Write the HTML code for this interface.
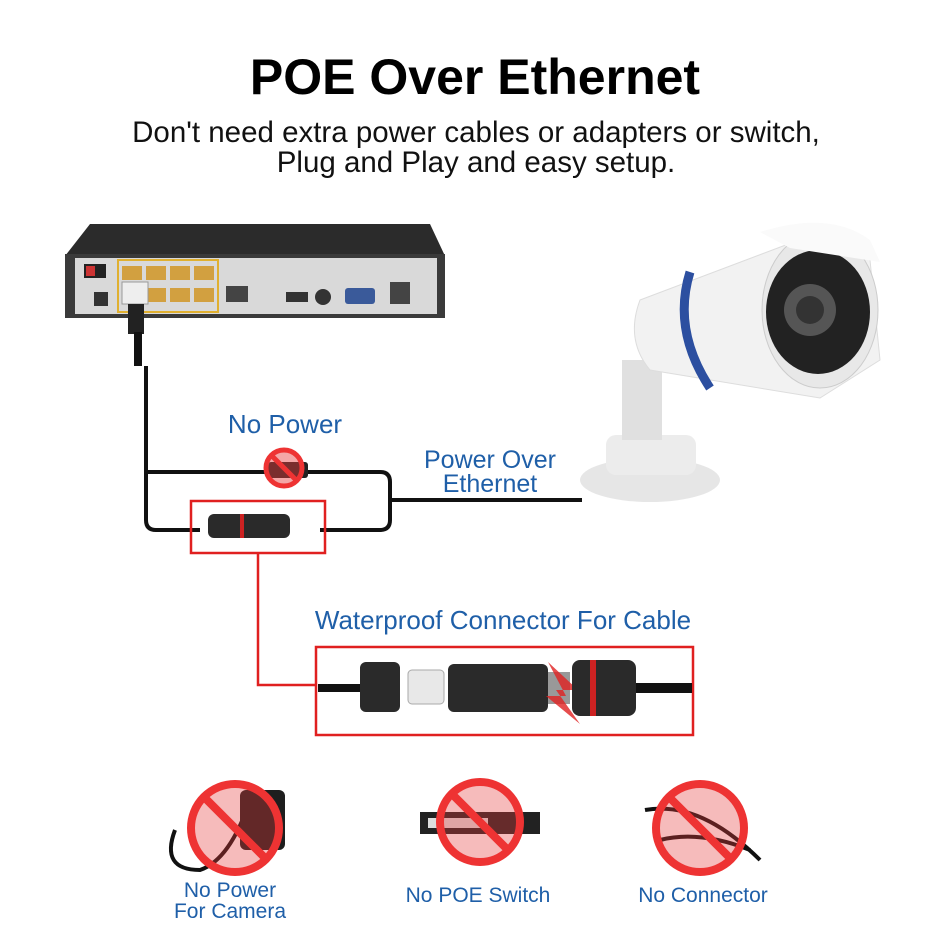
<!DOCTYPE html>
<html><head><meta charset="utf-8"><style>
body{margin:0;width:950px;height:950px;background:#fff;overflow:hidden;font-family:"Liberation Sans",Arial,sans-serif;}
svg{position:absolute;left:0;top:0}
</style></head><body>
<svg width="950" height="950" viewBox="0 0 950 950" xmlns="http://www.w3.org/2000/svg">
<text x="475" y="94" text-anchor="middle" font-size="50" font-weight="bold" fill="#000">POE Over Ethernet</text>
<text x="476" y="142" text-anchor="middle" font-size="29.5" fill="#111">Don't need extra power cables or adapters or switch,</text>
<text x="476" y="172" text-anchor="middle" font-size="29.5" fill="#111">Plug and Play and easy setup.</text>

<!-- NVR -->
<polygon points="90,224 430,224 445,256 65,256" fill="#2b2b2b"/>
<rect x="65" y="254" width="380" height="64" fill="#3a3a3a"/>
<rect x="75" y="258" width="362" height="56" fill="#d9d9d9"/>
<rect x="84" y="264" width="22" height="14" fill="#222"/><rect x="86" y="266" width="9" height="10" fill="#c33"/>
<rect x="94" y="292" width="14" height="14" fill="#333"/>
<rect x="118" y="260" width="100" height="52" fill="none" stroke="#e0b030" stroke-width="2"/>
<g fill="#d2a040"><rect x="122" y="266" width="20" height="14"/><rect x="146" y="266" width="20" height="14"/><rect x="170" y="266" width="20" height="14"/><rect x="194" y="266" width="20" height="14"/>
<rect x="146" y="288" width="20" height="14"/><rect x="170" y="288" width="20" height="14"/><rect x="194" y="288" width="20" height="14"/></g>
<rect x="226" y="286" width="22" height="16" fill="#444"/>
<rect x="286" y="292" width="22" height="10" fill="#333"/>
<circle cx="323" cy="297" r="8" fill="#333"/>
<rect x="345" y="288" width="30" height="16" rx="3" fill="#3a5a9a"/>
<rect x="390" y="282" width="20" height="22" fill="#444"/>
<rect x="122" y="282" width="26" height="22" fill="#eee" stroke="#999"/>
<rect x="128" y="304" width="16" height="30" fill="#222"/>
<rect x="134" y="332" width="8" height="34" fill="#111"/>
<g fill="none" stroke="#111" stroke-width="4">
<path d="M146,366 V520 Q146,530 156,530 H200"/>
<path d="M146,472 H380 Q390,472 390,482 V520 Q390,530 380,530 H320"/>
<path d="M390,500 H582"/>
</g>
<rect x="268" y="462" width="40" height="16" rx="3" fill="#222"/>
<circle cx="284" cy="468" r="18" fill="rgba(230,60,60,0.45)" stroke="#e33" stroke-width="5"/>
<line x1="272" y1="456" x2="296" y2="480" stroke="#e33" stroke-width="5"/>
<text x="285" y="433" text-anchor="middle" font-size="26" fill="#1f5fa8">No Power</text>
<text x="490" y="468" text-anchor="middle" font-size="25" fill="#1f5fa8">Power Over</text>
<text x="490" y="492" text-anchor="middle" font-size="25" fill="#1f5fa8">Ethernet</text>
<rect x="208" y="514" width="82" height="24" rx="6" fill="#2a2a2a"/>
<rect x="240" y="514" width="4" height="24" fill="#c22"/>
<rect x="191" y="501" width="134" height="52" fill="none" stroke="#e02020" stroke-width="2.5"/>
<path d="M258,553 V685 H316" fill="none" stroke="#e02020" stroke-width="2.5"/>
<text x="503" y="629" text-anchor="middle" font-size="26" fill="#1f5fa8">Waterproof Connector For Cable</text>
<rect x="316" y="647" width="377" height="88" fill="none" stroke="#e02020" stroke-width="2.5"/>
<path d="M318,688 H362" stroke="#111" stroke-width="8"/>
<rect x="360" y="662" width="40" height="50" rx="6" fill="#2a2a2a"/>
<rect x="408" y="670" width="36" height="34" rx="4" fill="#e8e8e8" stroke="#aaa"/>
<rect x="448" y="664" width="100" height="48" rx="6" fill="#2a2a2a"/>
<rect x="548" y="672" width="22" height="32" fill="#999"/>
<polygon points="548,662 578,690 556,690 580,724 546,696 566,696" fill="#e02020" opacity="0.8"/>
<rect x="572" y="660" width="64" height="56" rx="8" fill="#2a2a2a"/>
<rect x="590" y="660" width="6" height="56" fill="#c22"/>
<path d="M636,688 H692" stroke="#111" stroke-width="10"/>

<!-- camera -->
<ellipse cx="650" cy="480" rx="70" ry="22" fill="#e6e6e6"/>
<rect x="606" y="435" width="90" height="40" rx="10" fill="#ececec"/>
<rect x="622" y="360" width="40" height="80" fill="#e0e0e0"/>
<path d="M640,300 L820,232 L870,260 L880,360 L820,398 L650,370 Q625,340 640,300Z" fill="#f2f2f2" stroke="#ddd"/>
<path d="M690,272 Q672,330 710,388" fill="none" stroke="#2c4fa0" stroke-width="9"/>
<ellipse cx="820" cy="310" rx="58" ry="78" fill="#e8e8e8" stroke="#ccc"/>
<ellipse cx="818" cy="312" rx="52" ry="62" fill="#222"/>
<circle cx="810" cy="310" r="26" fill="#555"/>
<circle cx="810" cy="310" r="14" fill="#333"/>
<path d="M760,232 Q830,210 870,240 L880,262 L790,248Z" fill="#fafafa"/>

<path d="M175,830 Q160,870 200,870 Q230,860 250,800" fill="none" stroke="#111" stroke-width="4"/>
<rect x="240" y="790" width="45" height="60" rx="6" fill="#1e1e1e"/>
<circle cx="235" cy="828" r="44" fill="rgba(230,60,60,0.35)" stroke="#e33" stroke-width="8"/>
<line x1="204" y1="797" x2="266" y2="859" stroke="#e33" stroke-width="8"/>

<rect x="420" y="812" width="120" height="22" fill="#222"/>
<rect x="428" y="818" width="60" height="10" fill="#ddd"/>
<circle cx="480" cy="822" r="40" fill="rgba(230,60,60,0.35)" stroke="#e33" stroke-width="8"/>
<line x1="452" y1="794" x2="508" y2="850" stroke="#e33" stroke-width="8"/>

<path d="M645,810 Q700,800 760,860 M660,840 Q700,830 750,850" fill="none" stroke="#111" stroke-width="4"/>
<circle cx="700" cy="828" r="44" fill="rgba(230,60,60,0.35)" stroke="#e33" stroke-width="8"/>
<line x1="669" y1="797" x2="731" y2="859" stroke="#e33" stroke-width="8"/>

<text x="230" y="897" text-anchor="middle" font-size="21" fill="#1f5fa8">No Power</text>
<text x="230" y="918" text-anchor="middle" font-size="21" fill="#1f5fa8">For Camera</text>
<text x="478" y="902" text-anchor="middle" font-size="21" fill="#1f5fa8">No POE Switch</text>
<text x="703" y="902" text-anchor="middle" font-size="21" fill="#1f5fa8">No Connector</text>
</svg>
</body></html>
